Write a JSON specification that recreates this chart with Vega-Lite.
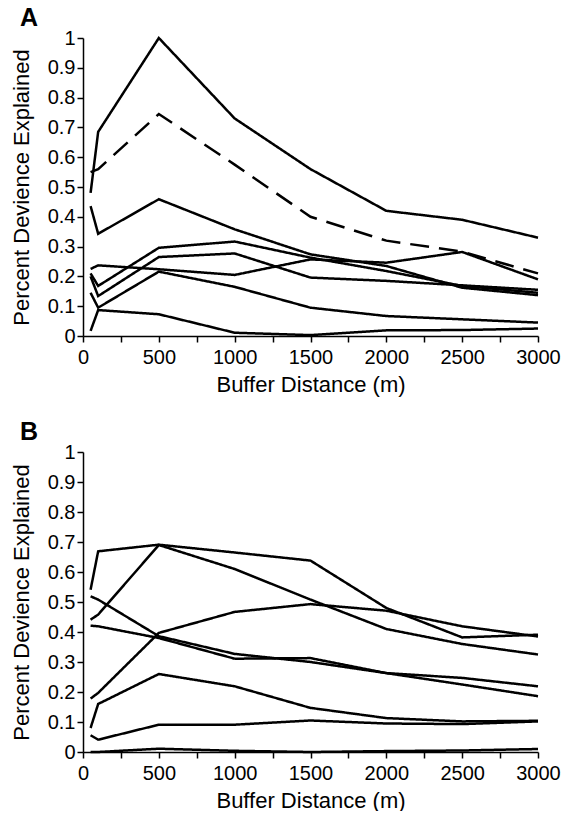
{
  "$schema": "https://vega.github.io/schema/vega-lite/v6.json",
  "padding": {"left": 10, "top": 6, "right": 0, "bottom": 0},
  "background": "white",
  "config": {
    "font": "Liberation Sans",
    "view": {"stroke": null},
    "axis": {
      "domainColor": "black", "domainWidth": 1.5, "tickColor": "black", "tickWidth": 1.5, "tickSize": 6,
      "labelColor": "black", "labelFontSize": 20, "labelFont": "Liberation Sans", "labelFlush": false, "labelOverlap": false,
      "titleColor": "black", "titleFontSize": 22, "titleFont": "Liberation Sans", "titleFontWeight": "normal",
      "grid": false
    },
    "title": {"fontSize": 25, "fontWeight": "bold", "color": "black", "anchor": "start", "frame": "group"}
  },
  "data": {"values": [
    {"panel": "A", "series": "A1", "style": "solid", "x": 50, "y": 0.48},
    {"panel": "A", "series": "A1", "style": "solid", "x": 100, "y": 0.685},
    {"panel": "A", "series": "A1", "style": "solid", "x": 500, "y": 1.0},
    {"panel": "A", "series": "A1", "style": "solid", "x": 1000, "y": 0.73},
    {"panel": "A", "series": "A1", "style": "solid", "x": 1500, "y": 0.56},
    {"panel": "A", "series": "A1", "style": "solid", "x": 2000, "y": 0.42},
    {"panel": "A", "series": "A1", "style": "solid", "x": 2500, "y": 0.39},
    {"panel": "A", "series": "A1", "style": "solid", "x": 3000, "y": 0.33},
    {"panel": "A", "series": "A2", "style": "dashed", "x": 50, "y": 0.55},
    {"panel": "A", "series": "A2", "style": "dashed", "x": 100, "y": 0.56},
    {"panel": "A", "series": "A2", "style": "dashed", "x": 500, "y": 0.745},
    {"panel": "A", "series": "A2", "style": "dashed", "x": 1000, "y": 0.575},
    {"panel": "A", "series": "A2", "style": "dashed", "x": 1500, "y": 0.40},
    {"panel": "A", "series": "A2", "style": "dashed", "x": 2000, "y": 0.32},
    {"panel": "A", "series": "A2", "style": "dashed", "x": 2500, "y": 0.283},
    {"panel": "A", "series": "A2", "style": "dashed", "x": 3000, "y": 0.21},
    {"panel": "A", "series": "A3", "style": "solid", "x": 50, "y": 0.436},
    {"panel": "A", "series": "A3", "style": "solid", "x": 100, "y": 0.343},
    {"panel": "A", "series": "A3", "style": "solid", "x": 500, "y": 0.459},
    {"panel": "A", "series": "A3", "style": "solid", "x": 1000, "y": 0.358},
    {"panel": "A", "series": "A3", "style": "solid", "x": 1500, "y": 0.274},
    {"panel": "A", "series": "A3", "style": "solid", "x": 2000, "y": 0.235},
    {"panel": "A", "series": "A3", "style": "solid", "x": 2500, "y": 0.162},
    {"panel": "A", "series": "A3", "style": "solid", "x": 3000, "y": 0.137},
    {"panel": "A", "series": "A4", "style": "solid", "x": 50, "y": 0.21},
    {"panel": "A", "series": "A4", "style": "solid", "x": 100, "y": 0.168},
    {"panel": "A", "series": "A4", "style": "solid", "x": 500, "y": 0.296},
    {"panel": "A", "series": "A4", "style": "solid", "x": 1000, "y": 0.317},
    {"panel": "A", "series": "A4", "style": "solid", "x": 1500, "y": 0.263},
    {"panel": "A", "series": "A4", "style": "solid", "x": 2000, "y": 0.218},
    {"panel": "A", "series": "A4", "style": "solid", "x": 2500, "y": 0.168},
    {"panel": "A", "series": "A4", "style": "solid", "x": 3000, "y": 0.145},
    {"panel": "A", "series": "A5", "style": "solid", "x": 50, "y": 0.2},
    {"panel": "A", "series": "A5", "style": "solid", "x": 100, "y": 0.134},
    {"panel": "A", "series": "A5", "style": "solid", "x": 500, "y": 0.265},
    {"panel": "A", "series": "A5", "style": "solid", "x": 1000, "y": 0.277},
    {"panel": "A", "series": "A5", "style": "solid", "x": 1500, "y": 0.196},
    {"panel": "A", "series": "A5", "style": "solid", "x": 2000, "y": 0.185},
    {"panel": "A", "series": "A5", "style": "solid", "x": 2500, "y": 0.17},
    {"panel": "A", "series": "A5", "style": "solid", "x": 3000, "y": 0.155},
    {"panel": "A", "series": "A6", "style": "solid", "x": 50, "y": 0.225},
    {"panel": "A", "series": "A6", "style": "solid", "x": 100, "y": 0.237},
    {"panel": "A", "series": "A6", "style": "solid", "x": 500, "y": 0.224},
    {"panel": "A", "series": "A6", "style": "solid", "x": 1000, "y": 0.205},
    {"panel": "A", "series": "A6", "style": "solid", "x": 1500, "y": 0.257},
    {"panel": "A", "series": "A6", "style": "solid", "x": 2000, "y": 0.246},
    {"panel": "A", "series": "A6", "style": "solid", "x": 2500, "y": 0.282},
    {"panel": "A", "series": "A6", "style": "solid", "x": 3000, "y": 0.19},
    {"panel": "A", "series": "A7", "style": "solid", "x": 50, "y": 0.145},
    {"panel": "A", "series": "A7", "style": "solid", "x": 100, "y": 0.095},
    {"panel": "A", "series": "A7", "style": "solid", "x": 500, "y": 0.216},
    {"panel": "A", "series": "A7", "style": "solid", "x": 1000, "y": 0.165},
    {"panel": "A", "series": "A7", "style": "solid", "x": 1500, "y": 0.095},
    {"panel": "A", "series": "A7", "style": "solid", "x": 2000, "y": 0.067},
    {"panel": "A", "series": "A7", "style": "solid", "x": 2500, "y": 0.056},
    {"panel": "A", "series": "A7", "style": "solid", "x": 3000, "y": 0.045},
    {"panel": "A", "series": "A8", "style": "solid", "x": 50, "y": 0.017},
    {"panel": "A", "series": "A8", "style": "solid", "x": 100, "y": 0.087},
    {"panel": "A", "series": "A8", "style": "solid", "x": 500, "y": 0.073},
    {"panel": "A", "series": "A8", "style": "solid", "x": 1000, "y": 0.011},
    {"panel": "A", "series": "A8", "style": "solid", "x": 1500, "y": 0.003},
    {"panel": "A", "series": "A8", "style": "solid", "x": 2000, "y": 0.019},
    {"panel": "A", "series": "A8", "style": "solid", "x": 2500, "y": 0.02},
    {"panel": "A", "series": "A8", "style": "solid", "x": 3000, "y": 0.025},
    {"panel": "B", "series": "B1", "style": "solid", "x": 50, "y": 0.541},
    {"panel": "B", "series": "B1", "style": "solid", "x": 100, "y": 0.669},
    {"panel": "B", "series": "B1", "style": "solid", "x": 500, "y": 0.691},
    {"panel": "B", "series": "B1", "style": "solid", "x": 1000, "y": 0.665},
    {"panel": "B", "series": "B1", "style": "solid", "x": 1500, "y": 0.638},
    {"panel": "B", "series": "B1", "style": "solid", "x": 2000, "y": 0.48},
    {"panel": "B", "series": "B1", "style": "solid", "x": 2500, "y": 0.382},
    {"panel": "B", "series": "B1", "style": "solid", "x": 3000, "y": 0.391},
    {"panel": "B", "series": "B2", "style": "solid", "x": 50, "y": 0.441},
    {"panel": "B", "series": "B2", "style": "solid", "x": 100, "y": 0.458},
    {"panel": "B", "series": "B2", "style": "solid", "x": 500, "y": 0.69},
    {"panel": "B", "series": "B2", "style": "solid", "x": 1000, "y": 0.61},
    {"panel": "B", "series": "B2", "style": "solid", "x": 1500, "y": 0.508},
    {"panel": "B", "series": "B2", "style": "solid", "x": 2000, "y": 0.41},
    {"panel": "B", "series": "B2", "style": "solid", "x": 2500, "y": 0.36},
    {"panel": "B", "series": "B2", "style": "solid", "x": 3000, "y": 0.325},
    {"panel": "B", "series": "B3", "style": "solid", "x": 50, "y": 0.519},
    {"panel": "B", "series": "B3", "style": "solid", "x": 100, "y": 0.508},
    {"panel": "B", "series": "B3", "style": "solid", "x": 500, "y": 0.386},
    {"panel": "B", "series": "B3", "style": "solid", "x": 1000, "y": 0.327},
    {"panel": "B", "series": "B3", "style": "solid", "x": 1500, "y": 0.30},
    {"panel": "B", "series": "B3", "style": "solid", "x": 2000, "y": 0.263},
    {"panel": "B", "series": "B3", "style": "solid", "x": 2500, "y": 0.225},
    {"panel": "B", "series": "B3", "style": "solid", "x": 3000, "y": 0.186},
    {"panel": "B", "series": "B4", "style": "solid", "x": 50, "y": 0.421},
    {"panel": "B", "series": "B4", "style": "solid", "x": 100, "y": 0.419},
    {"panel": "B", "series": "B4", "style": "solid", "x": 500, "y": 0.38},
    {"panel": "B", "series": "B4", "style": "solid", "x": 1000, "y": 0.311},
    {"panel": "B", "series": "B4", "style": "solid", "x": 1500, "y": 0.313},
    {"panel": "B", "series": "B4", "style": "solid", "x": 2000, "y": 0.263},
    {"panel": "B", "series": "B4", "style": "solid", "x": 2500, "y": 0.247},
    {"panel": "B", "series": "B4", "style": "solid", "x": 3000, "y": 0.219},
    {"panel": "B", "series": "B5", "style": "solid", "x": 50, "y": 0.178},
    {"panel": "B", "series": "B5", "style": "solid", "x": 100, "y": 0.197},
    {"panel": "B", "series": "B5", "style": "solid", "x": 500, "y": 0.397},
    {"panel": "B", "series": "B5", "style": "solid", "x": 1000, "y": 0.467},
    {"panel": "B", "series": "B5", "style": "solid", "x": 1500, "y": 0.493},
    {"panel": "B", "series": "B5", "style": "solid", "x": 2000, "y": 0.471},
    {"panel": "B", "series": "B5", "style": "solid", "x": 2500, "y": 0.419},
    {"panel": "B", "series": "B5", "style": "solid", "x": 3000, "y": 0.385},
    {"panel": "B", "series": "B6", "style": "solid", "x": 50, "y": 0.08},
    {"panel": "B", "series": "B6", "style": "solid", "x": 100, "y": 0.16},
    {"panel": "B", "series": "B6", "style": "solid", "x": 500, "y": 0.26},
    {"panel": "B", "series": "B6", "style": "solid", "x": 1000, "y": 0.219},
    {"panel": "B", "series": "B6", "style": "solid", "x": 1500, "y": 0.147},
    {"panel": "B", "series": "B6", "style": "solid", "x": 2000, "y": 0.113},
    {"panel": "B", "series": "B6", "style": "solid", "x": 2500, "y": 0.102},
    {"panel": "B", "series": "B6", "style": "solid", "x": 3000, "y": 0.104},
    {"panel": "B", "series": "B7", "style": "solid", "x": 50, "y": 0.056},
    {"panel": "B", "series": "B7", "style": "solid", "x": 100, "y": 0.041},
    {"panel": "B", "series": "B7", "style": "solid", "x": 500, "y": 0.091},
    {"panel": "B", "series": "B7", "style": "solid", "x": 1000, "y": 0.091},
    {"panel": "B", "series": "B7", "style": "solid", "x": 1500, "y": 0.105},
    {"panel": "B", "series": "B7", "style": "solid", "x": 2000, "y": 0.095},
    {"panel": "B", "series": "B7", "style": "solid", "x": 2500, "y": 0.093},
    {"panel": "B", "series": "B7", "style": "solid", "x": 3000, "y": 0.102},
    {"panel": "B", "series": "B8", "style": "solid", "x": 50, "y": 0.0},
    {"panel": "B", "series": "B8", "style": "solid", "x": 100, "y": 0.0},
    {"panel": "B", "series": "B8", "style": "solid", "x": 500, "y": 0.011},
    {"panel": "B", "series": "B8", "style": "solid", "x": 1000, "y": 0.004},
    {"panel": "B", "series": "B8", "style": "solid", "x": 1500, "y": 0.0},
    {"panel": "B", "series": "B8", "style": "solid", "x": 2000, "y": 0.003},
    {"panel": "B", "series": "B8", "style": "solid", "x": 2500, "y": 0.005},
    {"panel": "B", "series": "B8", "style": "solid", "x": 3000, "y": 0.01}
  ]},
  "spacing": 25,
  "vconcat": [
    {
      "title": {"text": "A", "dx": -63, "offset": -3},
      "width": 455, "height": 298,
      "transform": [{"filter": "datum.panel === 'A'"}],
      "mark": {"type": "line", "color": "black", "strokeWidth": 2.5, "clip": false},
      "encoding": {
        "x": {"field": "x", "type": "quantitative", "scale": {"domain": [0, 3000], "nice": false},
          "axis": {"title": "Buffer Distance (m)", "values": [0,250,500,750,1000,1250,1500,1750,2000,2250,2500,2750,3000], "format": "d", "labelExpr": "datum.value % 500 === 0 ? datum.label : ''", "labelPadding": 5, "titlePadding": 7}},
        "y": {"field": "y", "type": "quantitative", "scale": {"domain": [0, 1], "nice": false},
          "axis": {"title": "Percent Devience Explained", "values": [0,0.1,0.2,0.3,0.4,0.5,0.6,0.7,0.8,0.9,1], "format": "~g", "labelPadding": 2, "titlePadding": 14}},
        "detail": {"field": "series"},
        "strokeDash": {"field": "style", "type": "nominal", "scale": {"domain": ["solid", "dashed"], "range": [[1, 0], [19, 10]]}, "legend": null}
      }
    },
    {
      "title": {"text": "B", "dx": -63, "offset": -3},
      "width": 455, "height": 300,
      "transform": [{"filter": "datum.panel === 'B'"}],
      "mark": {"type": "line", "color": "black", "strokeWidth": 2.5, "clip": false},
      "encoding": {
        "x": {"field": "x", "type": "quantitative", "scale": {"domain": [0, 3000], "nice": false},
          "axis": {"title": "Buffer Distance (m)", "values": [0,250,500,750,1000,1250,1500,1750,2000,2250,2500,2750,3000], "format": "d", "labelExpr": "datum.value % 500 === 0 ? datum.label : ''", "labelPadding": 5, "titlePadding": 7}},
        "y": {"field": "y", "type": "quantitative", "scale": {"domain": [0, 1], "nice": false},
          "axis": {"title": "Percent Devience Explained", "values": [0,0.1,0.2,0.3,0.4,0.5,0.6,0.7,0.8,0.9,1], "format": "~g", "labelPadding": 2, "titlePadding": 14}},
        "detail": {"field": "series"},
        "strokeDash": {"field": "style", "type": "nominal", "scale": {"domain": ["solid", "dashed"], "range": [[1, 0], [19, 10]]}, "legend": null}
      }
    }
  ]
}
